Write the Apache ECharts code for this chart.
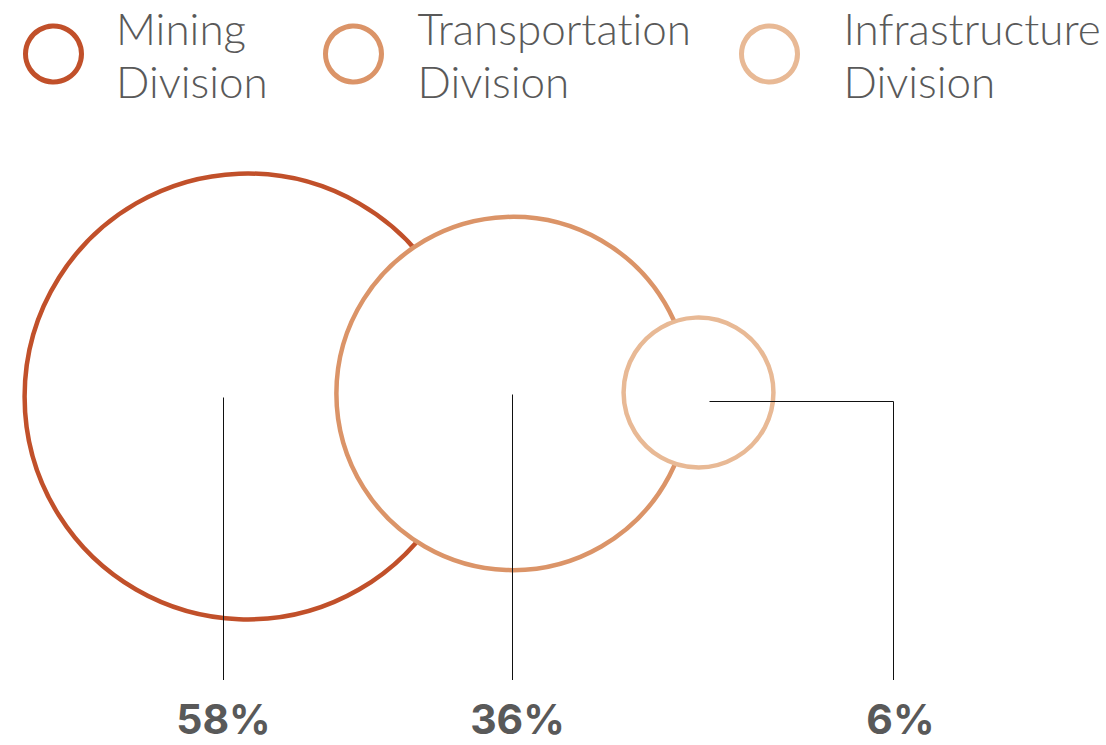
<!DOCTYPE html>
<html>
<head>
<meta charset="utf-8">
<script src="https://cdn.jsdelivr.net/npm/echarts@6/dist/echarts.min.js"></script>
<style>
  html, body { margin: 0; padding: 0; background: #ffffff; }
  #chart { width: 1106px; height: 745px; }
  #chart text { font-variant-ligatures: none; }
</style>
</head>
<body>
<div id="chart"></div>
<script>
// Revenue share by division
const divisions = ['Mining Division', 'Transportation Division', 'Infrastructure Division'];
const shares = [58, 36, 6];

// Styling
const palette = ['#C1502A', '#DB9468', '#E8B995'];
const textGray = '#595959';
const legendFont = 'Lato, "Noto Sans", "Open Sans", sans-serif';
const labelFont = 'Inter, Lato, "Noto Sans", sans-serif';

// Canvas-sized plane: one axis unit = one pixel
const W = 1106, H = 745;

// Bubble area follows the share: radius grows with sqrt(share)
const RADIUS_SCALE = 28.65, RADIUS_BASE = 4.75;
function radiusOf(v) { return RADIUS_SCALE * Math.sqrt(v) + RADIUS_BASE; }

// Bubble packing: chained left to right, each overlapping the previous one
const firstLeft = 24.6;
const overlaps = [134.1, 66.1];
const rowY = [396.5, 393.5, 392.5];
const centers = [];
shares.forEach((v, i) => {
  const r = radiusOf(v);
  let x;
  if (i === 0) x = firstLeft + r;
  else x = centers[i - 1].x + centers[i - 1].r + r - overlaps[i - 1];
  centers.push({ x: x, y: rowY[i], r: r });
});

// Leader lines: start offset from bubble centre, optional elbow, label offset
const LEADER_END_Y = 680;
const LABEL_Y = 718.5;
const leaders = [
  { dx: -25, dy: 0, elbowDx: null, labelDx: 0 },
  { dx: -0.7, dy: 0, elbowDx: null, labelDx: 5 },
  { dx: 10.5, dy: 8.5, elbowDx: 194.5, labelDx: 7 }
];

// Legend placement
const legendLefts = [23, 323, 739];
const legendTextPads = [29.5, 31, 41];

const chart = echarts.init(document.getElementById('chart'), null, { renderer: 'svg' });

const bubbleSeries = divisions.map((name, i) => ({
  type: 'scatter',
  name: name,
  z: 2 + i,
  silent: true,
  symbol: 'circle',
  data: [[centers[i].x, centers[i].y, shares[i]]],
  symbolSize: val => 2 * radiusOf(val[2]),
  itemStyle: { color: '#ffffff', borderColor: palette[i], borderWidth: 4.5, opacity: 1 },
  emphasis: { disabled: true }
}));

const leaderSeries = {
  type: 'custom',
  z: 10,
  silent: true,
  data: shares.map((v, i) => [centers[i].x, centers[i].y, v]),
  renderItem: function (params, api) {
    const i = params.dataIndex;
    const lead = leaders[i];
    const c = api.coord([api.value(0), api.value(1)]);
    const endY = api.coord([0, LEADER_END_Y])[1];
    const labelY = api.coord([0, LABEL_Y])[1];
    const sx = Math.round(c[0] + lead.dx) + 0.5;
    const sy = Math.round(c[1] + lead.dy) + 0.5;
    let points, lineX;
    if (lead.elbowDx === null) {
      points = [[sx, sy], [sx, endY]];
      lineX = sx;
    } else {
      const ex = Math.round(c[0] + lead.elbowDx) + 0.5;
      points = [[sx, sy], [ex, sy], [ex, endY]];
      lineX = ex;
    }
    return {
      type: 'group',
      children: [
        {
          type: 'polyline',
          shape: { points: points },
          style: { stroke: '#111111', lineWidth: 1, fill: null }
        },
        {
          type: 'text',
          style: {
            text: api.value(2) + '%',
            x: lineX + lead.labelDx,
            y: labelY,
            align: 'center',
            verticalAlign: 'middle',
            fill: textGray,
            font: 'bold 41px ' + labelFont
          }
        }
      ]
    };
  }
};

const option = {
  backgroundColor: '#ffffff',
  animation: false,
  grid: { left: 0, right: 0, top: 0, bottom: 0, containLabel: false },
  xAxis: { type: 'value', min: 0, max: W, show: false },
  yAxis: { type: 'value', min: 0, max: H, inverse: true, show: false },
  legend: divisions.map((name, i) => ({
    data: [name],
    left: legendLefts[i],
    top: 1,
    padding: 0,
    icon: 'circle',
    itemWidth: 56,
    itemHeight: 56,
    selectedMode: false,
    itemStyle: { color: '#ffffff', borderColor: palette[i], borderWidth: 5 },
    formatter: n => n.replace(' ', '\n'),
    textStyle: {
      fontSize: 44,
      lineHeight: 53,
      color: textGray,
      fontFamily: legendFont,
      fontWeight: 300,
      padding: [0, 0, 0, legendTextPads[i]]
    }
  })),
  series: bubbleSeries.concat([leaderSeries])
};

chart.setOption(option);
</script>
</body>
</html>
